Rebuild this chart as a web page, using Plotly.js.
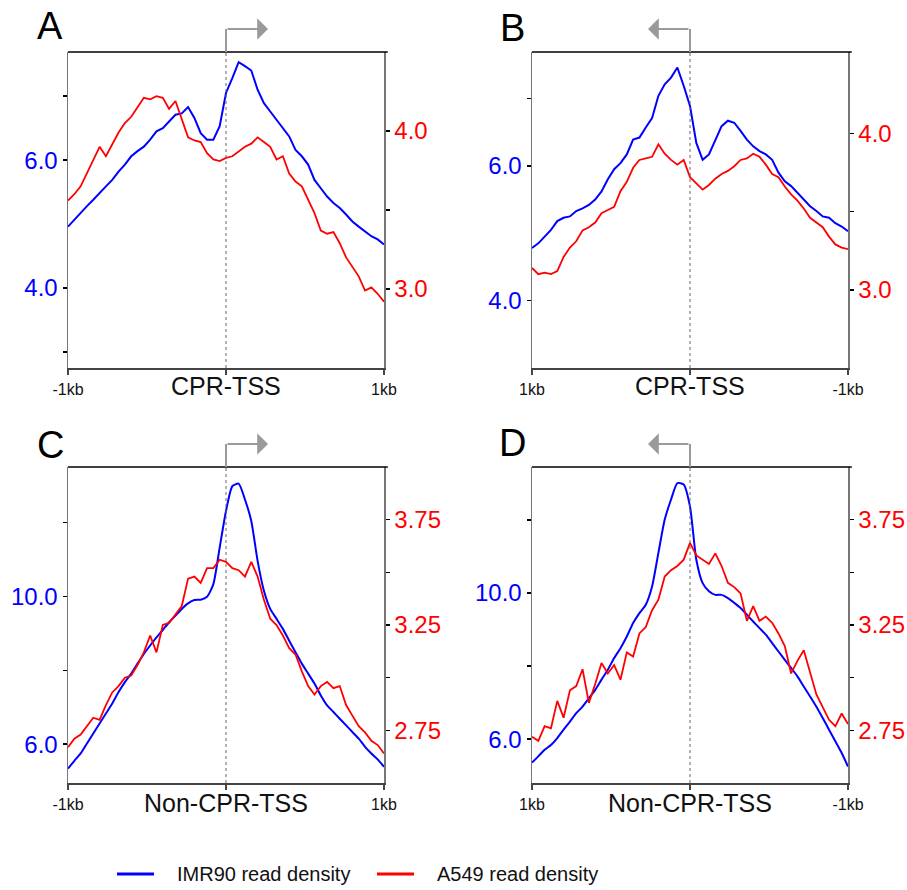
<!DOCTYPE html>
<html>
<head>
<meta charset="utf-8">
<script src="https://cdn.plot.ly/plotly-3.0.1.min.js"></script>
<style>html,body{margin:0;padding:0;background:#fff;}#chart{width:907px;height:890px;}</style>
</head>
<body>
<div id="chart"></div>
<script>
// Distance from TSS (bp), ascending (panels A, C: -1kb on the left)
const bpAsc = [-1000,-960,-920,-880,-840,-800,-760,-720,-680,-640,-600,-560,-520,-480,-440,-400,-360,-320,-280,-240,-200,-160,-120,-80,-40,0,40,80,120,160,200,240,280,320,360,400,440,480,520,560,600,640,680,720,760,800,840,880,920,960,1000];
// Distance from TSS (bp), descending (panels B, D: 1kb on the left)
const bpDesc = [1000,960,920,880,840,800,760,720,680,640,600,560,520,480,440,400,360,320,280,240,200,160,120,80,40,0,-40,-80,-120,-160,-200,-240,-280,-320,-360,-400,-440,-480,-520,-560,-600,-640,-680,-720,-760,-800,-840,-880,-920,-960,-1000];

// Panel A: CPR-TSS (forward)
const imr90A = [4.96,5.07,5.17,5.28,5.38,5.49,5.59,5.69,5.82,5.93,6.06,6.14,6.21,6.32,6.45,6.50,6.60,6.71,6.73,6.83,6.66,6.42,6.32,6.32,6.53,7.05,7.28,7.53,7.47,7.40,7.10,6.89,6.76,6.63,6.50,6.37,6.16,6.06,5.93,5.69,5.56,5.43,5.33,5.25,5.15,5.04,4.96,4.89,4.81,4.76,4.68];
const a549A  = [3.56,3.60,3.65,3.73,3.82,3.90,3.84,3.92,3.99,4.05,4.09,4.15,4.21,4.20,4.22,4.21,4.14,4.19,4.07,3.96,3.94,3.93,3.86,3.82,3.81,3.83,3.84,3.87,3.90,3.92,3.96,3.93,3.90,3.82,3.84,3.73,3.68,3.65,3.56,3.48,3.37,3.35,3.36,3.29,3.20,3.14,3.08,2.99,3.01,2.97,2.92];
// Panel B: CPR-TSS (reverse), listed along bpDesc
const imr90B = [4.78,4.85,4.95,5.05,5.18,5.23,5.25,5.33,5.37,5.42,5.50,5.62,5.80,5.95,6.04,6.17,6.39,6.42,6.57,6.71,7.04,7.21,7.31,7.46,7.19,6.89,6.34,6.09,6.17,6.39,6.59,6.67,6.64,6.52,6.39,6.29,6.22,6.17,6.09,5.90,5.77,5.70,5.60,5.50,5.40,5.33,5.25,5.23,5.15,5.10,5.03];
const a549B  = [3.14,3.10,3.11,3.10,3.12,3.21,3.27,3.31,3.38,3.40,3.43,3.49,3.51,3.53,3.63,3.69,3.78,3.83,3.84,3.85,3.93,3.87,3.83,3.80,3.83,3.72,3.68,3.64,3.67,3.71,3.74,3.76,3.79,3.83,3.84,3.87,3.85,3.80,3.74,3.72,3.66,3.61,3.57,3.52,3.46,3.43,3.40,3.34,3.29,3.27,3.26];
// Panel C: Non-CPR-TSS (forward)
const imr90C = [5.34,5.55,5.75,6.02,6.29,6.56,6.83,7.10,7.41,7.68,7.91,8.18,8.44,8.67,8.89,9.09,9.30,9.48,9.66,9.81,9.90,9.91,9.99,10.33,11.32,12.31,12.98,13.05,12.62,12.04,10.96,10.15,9.66,9.39,9.12,8.80,8.49,8.18,7.91,7.64,7.32,7.05,6.87,6.69,6.51,6.33,6.15,5.93,5.75,5.59,5.39];
const a549C  = [2.67,2.71,2.73,2.77,2.81,2.80,2.87,2.93,2.96,3.00,3.01,3.06,3.12,3.20,3.12,3.25,3.26,3.30,3.34,3.47,3.48,3.45,3.52,3.52,3.56,3.55,3.52,3.51,3.48,3.55,3.48,3.37,3.28,3.25,3.20,3.14,3.11,3.03,2.96,2.92,2.96,2.98,2.95,2.96,2.87,2.82,2.77,2.74,2.70,2.68,2.64];
// Panel D: Non-CPR-TSS (reverse), listed along bpDesc
const imr90D = [5.36,5.53,5.71,5.84,6.03,6.26,6.48,6.71,6.89,7.12,7.35,7.63,7.90,8.22,8.49,8.81,9.18,9.45,9.68,10.18,11.10,12.01,12.56,13.01,12.97,12.37,10.91,10.27,10.05,9.95,9.95,9.86,9.73,9.59,9.41,9.22,9.04,8.86,8.63,8.40,8.17,7.95,7.72,7.44,7.17,6.89,6.58,6.26,5.94,5.62,5.25];
const a549D  = [2.72,2.70,2.77,2.76,2.89,2.81,2.94,2.96,3.04,2.88,2.97,3.07,3.02,3.06,2.99,3.12,3.10,3.21,3.24,3.32,3.37,3.48,3.51,3.53,3.56,3.64,3.58,3.56,3.54,3.59,3.53,3.45,3.43,3.40,3.27,3.34,3.27,3.29,3.26,3.21,3.15,3.02,3.08,3.13,3.02,2.92,2.86,2.80,2.77,2.83,2.78];

// Labels
const panelLetters = ['A','B','C','D'];
const panelTitles = ['CPR-TSS','CPR-TSS','Non-CPR-TSS','Non-CPR-TSS'];
const seriesNames = ['IMR90 read density','A549 read density'];
const fwdTickVals = [-1000, 0, 1000];
const fwdTickText = ['-1kb', '', '1kb'];
const revTickVals = [1000, 0, -1000];
const revTickText = ['1kb', '', '-1kb'];
const leftTicksTop = [3, 4, 6, 7];
const leftTextTop = ['', '4.0', '6.0', ''];
const leftTicksB = [4, 6, 7];
const leftTextB = ['4.0', '6.0', ''];
const rightTicksTop = [3, 3.5, 4];
const rightTextTop = ['3.0', '', '4.0'];
const leftTicksBottom = [6, 8, 10, 12];
const leftTextBottom = ['6.0', '', '10.0', ''];
const rightTicksBottom = [2.75, 3, 3.25, 3.5, 3.75];
const rightTextBottom = ['2.75', '', '3.25', '', '3.75'];

const BLUE = '#0000ff', RED = '#ff0000';
const FONT = 'Liberation Sans, Arial, Helvetica, sans-serif';
const W = 907, H = 890;

const panels = [
  {x: bpAsc,  blue: imr90A, red: a549A, xa: 'x',  yl: 'y',  yr: 'y2', smooth: false},
  {x: bpDesc, blue: imr90B, red: a549B, xa: 'x2', yl: 'y3', yr: 'y4', smooth: false},
  {x: bpAsc,  blue: imr90C, red: a549C, xa: 'x3', yl: 'y5', yr: 'y6', smooth: true},
  {x: bpDesc, blue: imr90D, red: a549D, xa: 'x4', yl: 'y7', yr: 'y8', smooth: true}
];

const traces = [];
panels.forEach((p) => {
  traces.push({x: p.x, y: p.blue, xaxis: p.xa, yaxis: p.yl, type: 'scatter', mode: 'lines',
    name: seriesNames[0], showlegend: false,
    line: {color: BLUE, width: 2, shape: p.smooth ? 'spline' : 'linear', smoothing: 0.6}});
  traces.push({x: p.x, y: p.red, xaxis: p.xa, yaxis: p.yr, type: 'scatter', mode: 'lines',
    name: seriesNames[1], showlegend: false,
    line: {color: RED, width: 1.8}});
});

// geometry (pixels)
const colX = [[68, 384], [532, 848]];
const rowY = [[52, 368], [467, 783]];
const px = (v) => v / W;
const py = (v) => 1 - v / H;

function xAxis(col, row, reversed) {
  return {
    domain: [px(colX[col][0]), px(colX[col][1])],
    range: reversed ? [1000, -1000] : [-1000, 1000],
    tickvals: reversed ? revTickVals : fwdTickVals,
    ticktext: reversed ? revTickText : fwdTickText,
    tickfont: {size: 16, color: '#111', family: FONT},
    ticks: 'outside', ticklen: 5, tickwidth: 1.5, tickcolor: '#444',
    showline: true, linecolor: '#444', linewidth: 1.5,
    showgrid: false, zeroline: false, fixedrange: true, ticklabelstandoff: 1
  };
}
function yLeft(row, range, vals, text, xa) {
  return {
    domain: [py(rowY[row][1]), py(rowY[row][0])],
    anchor: xa, side: 'left', range: range,
    tickvals: vals, ticktext: text,
    tickfont: {size: 24, color: BLUE, family: FONT},
    ticks: 'outside', ticklen: 4, tickwidth: 1.5, tickcolor: '#000',
    showline: true, linecolor: '#777', linewidth: 1.5,
    showgrid: false, zeroline: false, fixedrange: true
  };
}
function yRight(range, vals, text, xa, over) {
  return {
    overlaying: over, anchor: xa, side: 'right', range: range,
    tickvals: vals, ticktext: text,
    tickfont: {size: 24, color: RED, family: FONT},
    ticks: 'outside', ticklen: 4, tickwidth: 1.5, tickcolor: '#000',
    showline: true, linecolor: '#777', linewidth: 1.5,
    showgrid: false, zeroline: false, fixedrange: true
  };
}

const layout = {
  width: W, height: H,
  margin: {l: 0, r: 0, t: 0, b: 0},
  paper_bgcolor: '#fff', plot_bgcolor: '#fff',
  font: {family: FONT},
  showlegend: false,
  xaxis:  Object.assign(xAxis(0, 0, false), {anchor: 'y'}),
  xaxis2: Object.assign(xAxis(1, 0, true),  {anchor: 'y3'}),
  xaxis3: Object.assign(xAxis(0, 1, false), {anchor: 'y5'}),
  xaxis4: Object.assign(xAxis(1, 1, true),  {anchor: 'y7'}),
  yaxis:  yLeft(0, [2.75, 7.69], leftTicksTop, leftTextTop, 'x'),
  yaxis2: yRight([2.5, 4.5], rightTicksTop, rightTextTop, 'x', 'y'),
  yaxis3: yLeft(0, [3.0, 7.69], leftTicksB, leftTextB, 'x2'),
  yaxis4: yRight([2.5, 4.52], rightTicksTop, rightTextTop, 'x2', 'y3'),
  yaxis5: yLeft(1, [4.95, 13.5], leftTicksBottom, leftTextBottom, 'x3'),
  yaxis6: yRight([2.5, 4.0], rightTicksBottom, rightTextBottom, 'x3', 'y5'),
  yaxis7: yLeft(1, [4.8, 13.45], leftTicksBottom, leftTextBottom, 'x4'),
  yaxis8: yRight([2.5, 4.0], rightTicksBottom, rightTextBottom, 'x4', 'y7'),
  shapes: [], annotations: []
};

const letterPos = [[50, 26], [512, 28], [50, 445], [512, 443]];
const titleY = [386, 386, 803, 803];
const arrowY = [29, 29, 444, 444];
const ARROW_PX = 42;

panels.forEach((p, i) => {
  const row = i < 2 ? 0 : 1;
  const col = i % 2;
  const reversed = col === 1;
  const topPx = rowY[row][0];
  // top border
  layout.shapes.push({type: 'line', xref: p.xa + ' domain', yref: p.yl + ' domain',
    x0: 0, x1: 1.012, y0: 1, y1: 1, line: {color: '#000', width: 1.6}});
  // dotted TSS line
  layout.shapes.push({type: 'line', xref: p.xa, yref: p.yl + ' domain',
    x0: 0, x1: 0, y0: 0, y1: 1, line: {color: '#666', width: 1, dash: 'dot'}});
  // arrow stem
  layout.shapes.push({type: 'line', xref: p.xa, yref: 'paper',
    x0: 0, x1: 0, y0: py(topPx), y1: py(arrowY[i]) , line: {color: '#9a9a9a', width: 2}});
  // arrow head
  const span = colX[col][1] - colX[col][0];
  layout.annotations.push({xref: p.xa, yref: 'paper', x: ARROW_PX / span * 2000, y: py(arrowY[i]),
    ax: reversed ? ARROW_PX : -ARROW_PX, ay: 0, axref: 'pixel', ayref: 'pixel',
    text: '', showarrow: true, arrowhead: 1, arrowsize: 1.8, arrowwidth: 2, arrowcolor: '#9a9a9a', standoff: 0});
  // title under axis
  layout.annotations.push({xref: p.xa, yref: 'paper', x: 0, y: py(titleY[i]),
    text: panelTitles[i], showarrow: false, xanchor: 'center', yanchor: 'middle',
    font: {size: 25, color: '#111', family: FONT}});
  // panel letter
  layout.annotations.push({xref: 'paper', yref: 'paper', x: px(letterPos[i][0]), y: py(letterPos[i][1]),
    text: panelLetters[i], showarrow: false, xanchor: 'center', yanchor: 'middle',
    font: {size: 38, color: '#000', family: FONT}});
});

// legend
const legendItems = [
  {color: BLUE, x0: 117, x1: 154, tx: 175, name: seriesNames[0]},
  {color: RED,  x0: 377, x1: 414, tx: 435, name: seriesNames[1]}
];
legendItems.forEach((it) => {
  layout.shapes.push({type: 'line', xref: 'paper', yref: 'paper',
    x0: px(it.x0), x1: px(it.x1), y0: py(874), y1: py(874), line: {color: it.color, width: 3}});
  layout.annotations.push({xref: 'paper', yref: 'paper', x: px(it.tx), y: py(874),
    text: it.name, showarrow: false, xanchor: 'left', yanchor: 'middle',
    font: {size: 20, color: '#111', family: FONT}});
});

Plotly.newPlot('chart', traces, layout, {staticPlot: true, displayModeBar: false});
</script>
</body>
</html>
